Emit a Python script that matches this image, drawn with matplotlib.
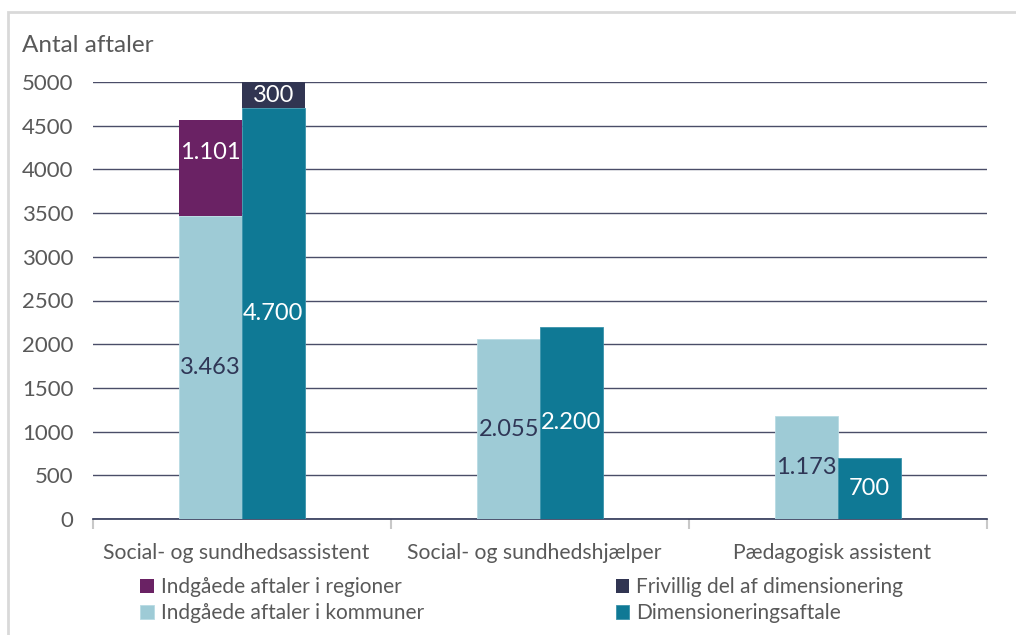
import matplotlib
import numpy as np
from matplotlib.patches import Rectangle
from matplotlib.transforms import ScaledTranslation

matplotlib.use("Agg")
import matplotlib.pyplot as plt

plt.rcParams["font.family"] = ["Lato", "DejaVu Sans"]

categories = ["Social- og sundhedsassistent", "Social- og sundhedshjælper", "Pædagogisk assistent"]
kommuner = [3463, 2055, 1173]
regioner = [1101, 0, 0]
dimensionering = [4700, 2200, 700]
frivillig = [300, 0, 0]

C_REG = "#6a2264"
C_KOM = "#9ecbd6"
C_FRI = "#313552"
C_DIM = "#0f7995"
TXT_DARK = "#2f3656"
GRAY = "#595959"


def fmt(v):
    return f"{v:,}".replace(",", ".") if v else ""


def main() -> None:
    fig = plt.figure(figsize=(10.16, 6.35), dpi=100)
    fig.patches.append(
        Rectangle((8 / 1016, -0.1), 1.2, 1.1 - 12 / 635, transform=fig.transFigure,
                  fill=False, edgecolor="#d9d9d9", linewidth=2)
    )
    ax = fig.add_axes([93 / 1016, 1 - 519 / 635, 894 / 1016, 437 / 635])

    x = np.arange(len(categories))
    w = 0.21

    b_kom = ax.bar(x - w / 2, kommuner, w, color=C_KOM, edgecolor="#b8dbe3", linewidth=0.6, zorder=3)
    b_reg = ax.bar(x - w / 2, regioner, w, bottom=kommuner, color=C_REG, zorder=3)
    b_dim = ax.bar(x + w / 2, dimensionering, w, color=C_DIM, edgecolor="#3b93ab", linewidth=0.6, zorder=3)
    b_fri = ax.bar(x + w / 2, frivillig, w, bottom=dimensionering, color=C_FRI, zorder=3)

    fs = 17
    ax.bar_label(b_kom, labels=[fmt(v) for v in kommuner], label_type="center", color=TXT_DARK, fontsize=fs, zorder=4)
    lab_reg = ax.bar_label(b_reg, labels=[fmt(v) for v in regioner], label_type="center", color="white", fontsize=fs, zorder=4)
    ax.bar_label(b_dim, labels=[fmt(v) for v in dimensionering], label_type="center", color="white", fontsize=fs, zorder=4)
    ax.bar_label(b_fri, labels=[fmt(v) for v in frivillig], label_type="center", color="white", fontsize=fs, zorder=4)
    lab_reg[0].xyann = (0, 11)

    ax.set_xlim(-0.5, 2.5)
    ax.set_ylim(0, 5000)
    ax.set_yticks(np.arange(0, 5001, 500))
    ax.grid(True, axis="y", color="#4a4d68", linewidth=1, zorder=0)
    for s in ["top", "right", "left"]:
        ax.spines[s].set_visible(False)
    ax.spines["bottom"].set_color("#2f3656")
    ax.spines["bottom"].set_linewidth(1.2)
    ax.tick_params(axis="y", length=0, pad=14, labelsize=16, labelcolor=GRAY)

    ax.set_xticks(x)
    ax.set_xticklabels(categories)
    ax.tick_params(axis="x", which="major", length=0, pad=17, labelsize=15.2, labelcolor=GRAY)
    shift = ScaledTranslation(-6 / 100, 0, fig.dpi_scale_trans)
    for lbl in ax.get_xticklabels():
        lbl.set_transform(lbl.get_transform() + shift)
    ax.set_xticks([-0.5, 0.5, 1.5, 2.5], minor=True)
    ax.tick_params(axis="x", which="minor", length=7, color="#c8c8c8", width=1.5)

    fig.text(22 / 1016, 1 - 46 / 635, "Antal aftaler", fontsize=17.5, color=GRAY, va="center", ha="left")

    handles = [b_reg, b_kom, b_fri, b_dim]
    names = ["Indgåede aftaler i regioner", "Indgåede aftaler i kommuner",
             "Frivillig del af dimensionering", "Dimensioneringsaftale"]
    fig.legend(handles, names, ncol=2, loc="upper left", bbox_to_anchor=(140 / 1016, 1 - 577 / 635),
               frameon=False, fontsize=15, labelcolor=GRAY, handlelength=0.65, handleheight=0.65,
               handletextpad=0.35, columnspacing=9.2, labelspacing=0.3, borderpad=0, borderaxespad=0)

    fig.savefig("out.png", dpi=100)
    plt.close(fig)


if __name__ == "__main__":
    main()
